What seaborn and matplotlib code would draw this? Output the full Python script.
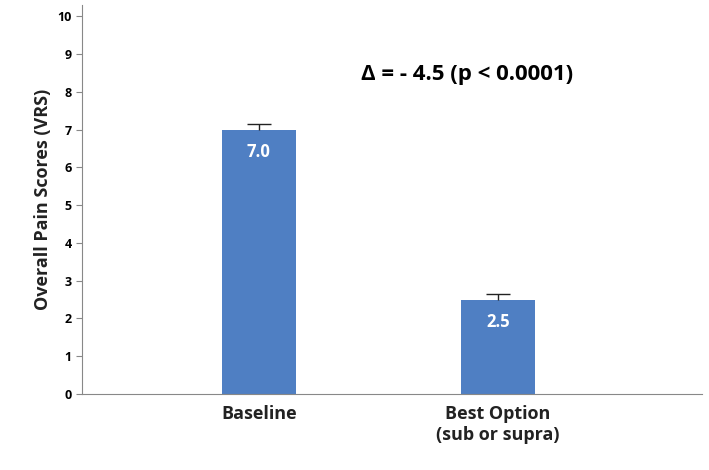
import matplotlib
matplotlib.use("Agg")
from matplotlib import pyplot as plt
import seaborn as sns
import pandas as pd

# data
categories = ['Baseline', 'Best Option\n(sub or supra)']
scores = [7.0, 2.5]
errors = [0.15, 0.15]
bar_labels = ['7.0', '2.5']

df = pd.DataFrame({'group': categories, 'score': scores})

plt.rc('font', family='Open Sans')
fig = plt.figure(figsize=(7.09, 4.70), dpi=100)
ax = fig.add_axes([0.116, 0.162, 0.874, 0.827])

sns.barplot(data=df, x='group', y='score', color='#4f7fc3', saturation=1,
            width=0.31, ax=ax, errorbar=None)
# upper-only error bars
for i, (v, e) in enumerate(zip(scores, errors)):
    ax.vlines(i, v, v + e, color='#222222', lw=1)
    ax.hlines(v + e, i - 0.05, i + 0.05, color='#222222', lw=1)

for i, (v, t) in enumerate(zip(scores, bar_labels)):
    ax.text(i, v - 0.6, t, ha='center', va='center', color='white',
            fontsize=12, fontweight='bold')

ax.text(0.87, 8.45, 'Δ = - 4.5 (p < 0.0001)', ha='center', va='center',
        fontsize=16, fontweight='bold', color='black')

ax.set_xlim(-0.738, 1.853)
ax.set_ylim(0, 10.3)
ax.set_yticks(range(0, 11))
ax.set_xlabel('')
ax.set_ylabel('Overall Pain Scores (VRS)', fontsize=13, fontweight='bold', color='#222222')
for lab in ax.get_yticklabels():
    lab.set_fontweight('bold')
    lab.set_fontsize(9)
for lab in ax.get_xticklabels():
    lab.set_fontweight('bold')
    lab.set_fontsize(13)
    lab.set_color('#222222')
ax.tick_params(axis='x', length=0, pad=8)
ax.tick_params(axis='y', length=4, color='#888888')
sns.despine(ax=ax)
ax.spines['left'].set_color('#888888')
ax.spines['bottom'].set_color('#888888')

fig.savefig('out.png', dpi=100)
